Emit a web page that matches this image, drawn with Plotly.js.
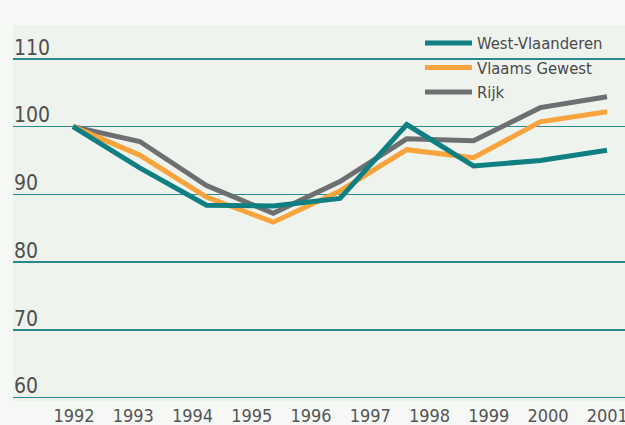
<!DOCTYPE html>
<html>
<head>
<meta charset="utf-8">
<script src="https://cdn.plot.ly/plotly-3.0.1.min.js"></script>
<style>
  html, body { margin: 0; padding: 0; background: #f6f8f6; }
  #chart { width: 625px; height: 425px; }
</style>
</head>
<body>
<div id="chart"></div>
<script>
// Tick labels on the visible year axis
const yearLabels = ['1992','1993','1994','1995','1996','1997','1998','1999','2000','2001'];
// Data points (9 points spread across the axis as in the reference)
const pointIndex = [0, 1, 2, 3, 4, 5, 6, 7, 8];
const westVlaanderen = [100, 93.9, 88.4, 88.3, 89.4, 100.3, 94.2, 95.0, 96.5];
const vlaamsGewest   = [100, 95.8, 89.6, 85.9, 90.5, 96.6, 95.4, 100.7, 102.2];
const rijk           = [100, 97.8, 91.3, 87.2, 91.9, 98.2, 97.9, 102.8, 104.4];
const seriesNames = ['West-Vlaanderen', 'Vlaams Gewest', 'Rijk'];
const yTicks = [60, 70, 80, 90, 100, 110];

const teal = '#0f7f82', orange = '#f8a33c', grey = '#6e6f70';
const plotBg = '#eef3ee';
const cond = '"DejaVu Sans Condensed", "Liberation Sans Narrow", "DejaVu Sans", sans-serif';

const traces = [
  { x: pointIndex, y: rijk, name: seriesNames[2], type: 'scatter', mode: 'lines',
    xaxis: 'x2', line: { color: grey, width: 5 } },
  { x: pointIndex, y: vlaamsGewest, name: seriesNames[1], type: 'scatter', mode: 'lines',
    xaxis: 'x2', line: { color: orange, width: 5 } },
  { x: pointIndex, y: westVlaanderen, name: seriesNames[0], type: 'scatter', mode: 'lines',
    xaxis: 'x2', line: { color: teal, width: 5 } },
  // invisible helper so the visible year axis is drawn
  { x: yearLabels.map(Number), y: yearLabels.map(() => null), type: 'scatter', mode: 'lines',
    xaxis: 'x', showlegend: false, hoverinfo: 'skip' }
];

const layout = {
  width: 625, height: 425,
  margin: { l: 13, r: 0, t: 25, b: 23.6, pad: 0 },
  paper_bgcolor: '#f6f8f6',
  plot_bgcolor: plotBg,
  showlegend: true,
  xaxis: {
    range: [1990.97, 2001.30],
    tickmode: 'array',
    tickvals: yearLabels.map(Number),
    ticktext: yearLabels,
    showgrid: false, zeroline: false, showline: false,
    ticks: '',
    ticklabeloverflow: 'allow',
    tickfont: { family: cond, size: 18, color: '#555555' },
    ticklabelstandoff: 2
  },
  xaxis2: {
    overlaying: 'x', range: [-0.899, 8.27], visible: false
  },
  yaxis: {
    range: [59.5, 115.0],
    tickmode: 'array',
    tickvals: yTicks,
    ticktext: yTicks.map(String),
    showgrid: true, gridcolor: '#2b8a8d', gridwidth: 1.5,
    zeroline: false, showline: false, ticks: '',
    ticklabelposition: 'inside top',
    ticklabelstandoff: -2,
    ticklabelshift: 3,
    tickfont: { family: cond, size: 21, color: '#4f4f4f' }
  },
  // gap in the top gridline behind the legend, as in the reference
  shapes: [{
    type: 'rect', layer: 'below', xref: 'paper', yref: 'y',
    x0: (418 - 13) / 612, x1: (601 - 13) / 612, y0: 109.5, y1: 110.5,
    fillcolor: plotBg, line: { width: 0 }
  }],
  legend: {
    x: (420 - 13) / 612, xanchor: 'left',
    y: 0.998, yanchor: 'top',
    traceorder: 'reversed',
    bgcolor: 'rgba(0,0,0,0)',
    borderwidth: 0,
    itemwidth: 47,
    font: { family: cond, size: 16.5, color: '#4a4a4a' },
    tracegroupgap: 0
  }
};

Plotly.newPlot('chart', traces, layout, { staticPlot: true, displayModeBar: false });
</script>
</body>
</html>
